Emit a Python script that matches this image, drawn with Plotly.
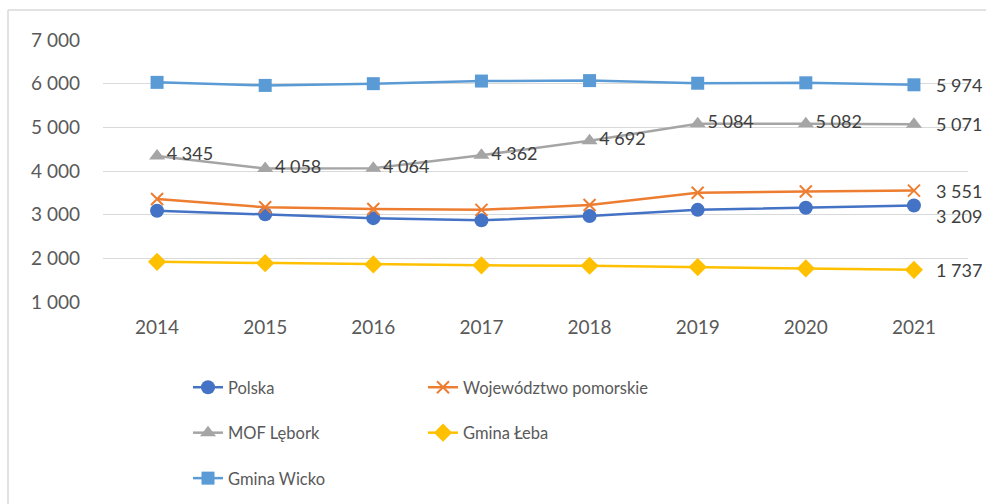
import plotly.graph_objects as go

years = ["2014", "2015", "2016", "2017", "2018", "2019", "2020", "2021"]
polska = [3090, 3010, 2920, 2870, 2970, 3110, 3160, 3209]
pomorskie = [3360, 3170, 3130, 3110, 3220, 3500, 3530, 3551]
mof = [4345, 4058, 4064, 4362, 4692, 5084, 5082, 5071]
leba = [1920, 1890, 1860, 1840, 1830, 1800, 1770, 1737]
wicko = [6030, 5960, 6000, 6060, 6070, 6010, 6020, 5974]

names = ["Polska", "Województwo pomorskie", "MOF Lębork", "Gmina Łeba", "Gmina Wicko"]
series = [polska, pomorskie, mof, leba, wicko]
colors = ["#4472C4", "#ED7D31", "#A5A5A5", "#FFC000", "#5B9BD5"]
symbols = ["circle", "x-thin-open", "triangle-up", "diamond", "square"]
sizes = [14, 12, 14, 14, 13]
legends = ["legend", "legend2", "legend", "legend2", "legend"]

FONT = "Lato"

def fmt(v):
    return f"{v:,}".replace(",", " ")

fig = go.Figure()
for i, (nm, vals) in enumerate(zip(names, series)):
    text = None
    if nm == "MOF Lębork":
        text = [fmt(v) for v in vals[:-1]] + [""]
    fig.add_trace(go.Scatter(
        x=years, y=vals, name=nm, mode="lines+markers+text" if text else "lines+markers",
        text=text, textposition="middle right",
        textfont=dict(family=FONT, size=18, color="#404040"),
        line=dict(color=colors[i], width=2.5),
        marker=dict(symbol=symbols[i], size=sizes[i], color=colors[i],
                    line=dict(color=colors[i], width=2 if symbols[i].startswith("x") else 0)),
        legend=legends[i], legendgroup=nm, cliponaxis=False,
    ))

last = len(years) - 1
annotations = []
for nm, vals in zip(names, series):
    ys = -10 if nm == "Polska" else 0
    annotations.append(dict(x=last, y=vals[-1], xref="x", yref="y", text=fmt(vals[-1]),
                            showarrow=False, xanchor="left", yanchor="middle", xshift=20, yshift=ys,
                            font=dict(family=FONT, size=18, color="#404040")))

W, H = 986, 504
L, R, T, B = 103, 18, 40, 202
pw, ph = W - L - R, H - T - B

def px_x(x):
    return (x - L) / pw

def px_y(y):
    return (H - B - y) / ph

fig.update_layout(
    width=W, height=H,
    margin=dict(l=L, r=R, t=T, b=B, autoexpand=False),
    paper_bgcolor="white", plot_bgcolor="white",
    separators=", ",
    font=dict(family=FONT, size=17, color="#595959"),
    showlegend=True,
    legend=dict(xref="container", yref="container", x=188 / W, y=1 - 370 / H,
                xanchor="left", yanchor="top",
                orientation="v", tracegroupgap=21, font=dict(size=16.5, color="#595959")),
    legend2=dict(xref="container", yref="container", x=423 / W, y=1 - 370 / H,
                 xanchor="left", yanchor="top",
                 orientation="v", tracegroupgap=21, font=dict(size=16.5, color="#595959")),
    xaxis=dict(type="category", range=[-0.5, len(years) - 0.5], autorange=False,
               showgrid=False, showline=False, ticks="",
               tickfont=dict(family=FONT, size=19, color="#595959"), ticklabelstandoff=12),
    yaxis=dict(range=[1000, 7000], autorange=False, dtick=1000, tickformat=",d", showgrid=True,
               gridcolor="#D9D9D9", gridwidth=1, zeroline=False, showline=False, ticks="",
               tickfont=dict(family=FONT, size=19, color="#595959"), ticklabelstandoff=22),
    annotations=annotations,
    shapes=[
        dict(type="line", xref="paper", yref="paper", x0=px_x(8), x1=px_x(8), y0=px_y(10), y1=px_y(510),
             line=dict(color="#D9D9D9", width=1.5)),
        dict(type="line", xref="paper", yref="paper", x0=px_x(8), x1=px_x(1000), y0=px_y(10), y1=px_y(10),
             line=dict(color="#D9D9D9", width=1.5)),
    ],
)

fig.write_html("out.html", config={"displayModeBar": False},
               post_script="document.body.style.margin='0';document.body.style.overflow='hidden';")
